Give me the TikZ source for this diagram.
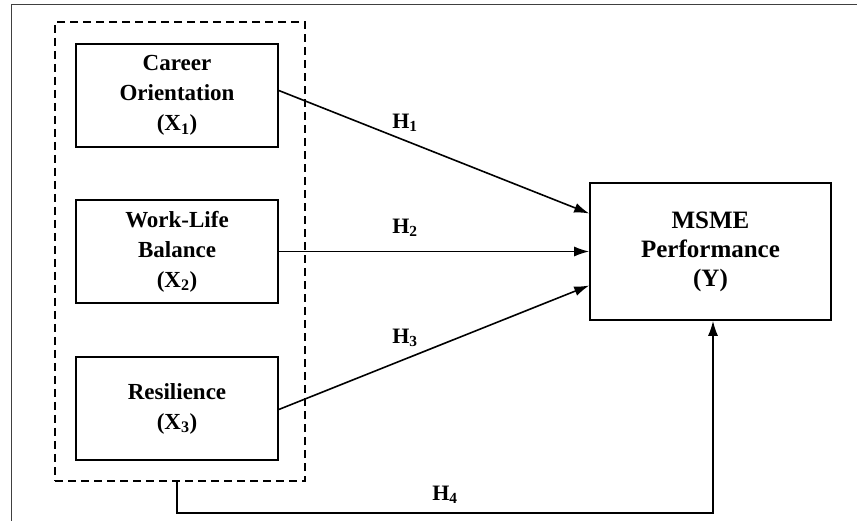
\documentclass[tikz,border=0pt]{standalone}
\usepackage{fontspec}
\setmainfont{Liberation Serif}
\usetikzlibrary{positioning}
\usetikzlibrary{arrows.meta}
\tikzset{
    varbox/.style={draw, line width=1.6pt, minimum width=202pt, minimum height=103pt, align=center, inner sep=0pt,
        font=\fontsize{23}{30}\selectfont\bfseries},
    hlabel/.style={font=\fontsize{22}{24}\selectfont\bfseries},
    grpbox/.style={draw, line width=1.4pt, dash pattern=on 8pt off 5pt, minimum width=250pt, minimum height=459pt, inner sep=0pt},
    link/.style={->, line width=1.6pt}
}

\begin{document}
\begin{tikzpicture}[x=1pt, y=-1pt, >={Latex[length=15pt,width=10pt]}]
    \useasboundingbox (0,0) rectangle (857,521);
    % Outer frame (cropped)
    \draw[line width=1pt, black!75] (11.5,521) -- (11.5,4.5) -- (857,4.5);

    % Independent variables
    \node[varbox] (x1) at (177,95.5) {Career\\Orientation\\(X\textsubscript{1})};
    \node[varbox] (x2) at (177,251.5) {Work-Life\\Balance\\(X\textsubscript{2})};
    \node[varbox] (x3) at (177,408.5) {Resilience\\(X\textsubscript{3})};
    % Group of variables
    \node[grpbox] (grp) at (180,251.5) {};

    % Dependent variable
    \node[varbox, minimum width=241pt, minimum height=137pt, font=\fontsize{25}{29}\selectfont\bfseries] (y) at (710.5,251.5) {MSME\\Performance\\(Y)};

    % Hypotheses
    \draw[link] ([yshift=5pt]x1.east) -- ([yshift=38pt]y.west);
    \draw[link] (x2.east) -- (y.west);
    \draw[link] ([yshift=-1pt]x3.east) -- ([yshift=-34pt]y.west);
    \draw[link] (x3.south |- grp.south) -- ++(0,31) coordinate (h4c) -| ([xshift=2.5pt]y.south);

    \node[hlabel] (h1) at (405,123) {H\textsubscript{1}};
    \node[hlabel] (h2) at (405,228) {H\textsubscript{2}};
    \node[hlabel] (h3) at (405,338) {H\textsubscript{3}};
    \node[hlabel] (h4) at (445,495) {H\textsubscript{4}};
\end{tikzpicture}
\end{document}
